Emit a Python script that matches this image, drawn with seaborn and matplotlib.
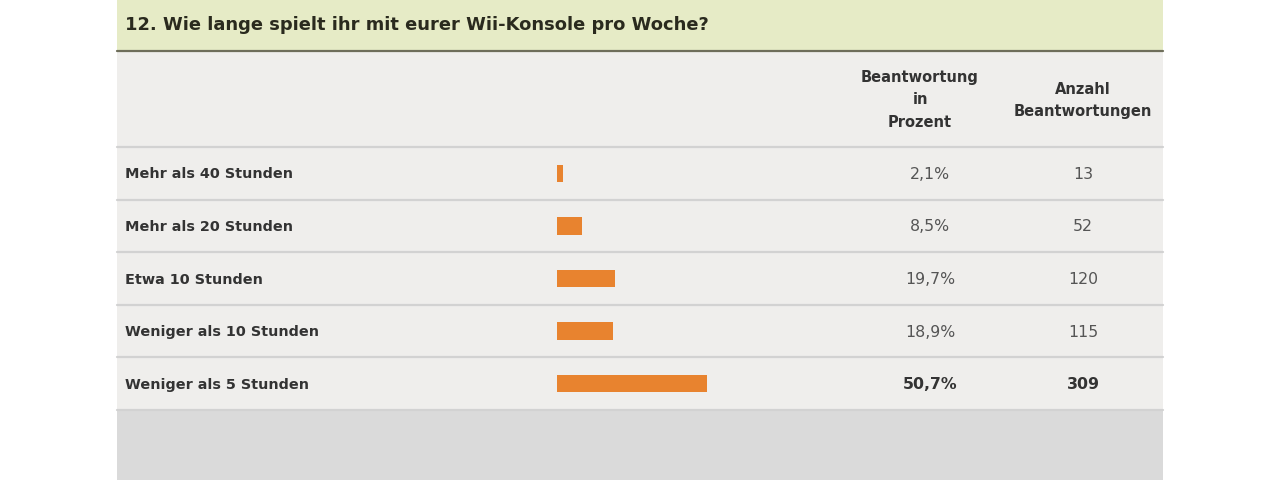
import matplotlib
matplotlib.use("Agg")
import matplotlib.pyplot as plt
import seaborn as sns
import pandas as pd
from matplotlib.patches import Rectangle
from matplotlib.lines import Line2D
import matplotlib.transforms as mtransforms

# ---- data ----
title = "12. Wie lange spielt ihr mit eurer Wii-Konsole pro Woche?"
categories = ["Mehr als 40 Stunden", "Mehr als 20 Stunden", "Etwa 10 Stunden",
              "Weniger als 10 Stunden", "Weniger als 5 Stunden"]
percent = [2.1, 8.5, 19.7, 18.9, 50.7]
counts = [13, 52, 120, 115, 309]
percent_labels = ["2,1%", "8,5%", "19,7%", "18,9%", "50,7%"]
header_pct = "Beantwortung\nin\nProzent"
header_cnt = "Anzahl\nBeantwortungen"

sns.set_theme(style="white")
plt.rcParams['font.family'] = ['DejaVu Sans']

W, H = 1280, 481
fig = plt.figure(figsize=(W / 100, H / 100), dpi=100)
fig.patch.set_facecolor("white")

def fx(px):
    return px / W

def fy(py):
    return 1 - py / H

L, R = 117, 1163
# title band
fig.patches.append(Rectangle((fx(L), fy(51)), fx(R - L), 51 / H,
                             transform=fig.transFigure, facecolor="#E6EBC6", edgecolor="none", zorder=0))
# header + rows background
fig.patches.append(Rectangle((fx(L), fy(411)), fx(R - L), (411 - 52) / H,
                             transform=fig.transFigure, facecolor="#EFEEEC", edgecolor="none", zorder=0))
# bottom gray area
fig.patches.append(Rectangle((fx(L), 0), fx(R - L), (H - 411) / H,
                             transform=fig.transFigure, facecolor="#DADADA", edgecolor="none", zorder=0))
# dark line below title
fig.lines.append(Line2D([fx(L), fx(R)], [fy(51.5), fy(51.5)], transform=fig.transFigure,
                        color="#6E6E5A", lw=1.6, zorder=1))

fig.text(fx(125), fy(25), title, fontsize=12.9, fontweight="bold", color="#2A2A1E",
         ha="left", va="center")
fig.text(fx(920), fy(100), header_pct, fontsize=10.5, fontweight="bold", color="#333333",
         ha="center", va="center", linespacing=1.65)
fig.text(fx(1083), fy(100.5), header_cnt, fontsize=10.5, fontweight="bold", color="#333333",
         ha="center", va="center", linespacing=1.65)

# bar axes: rows region 148..411 px, 0..100% over 295 px
top_px, bot_px = 148, 411
ax = fig.add_axes([fx(557), fy(bot_px), fx(295), (bot_px - top_px) / H])
ax.set_zorder(5)
df = pd.DataFrame({"cat": categories, "pct": percent})
sns.barplot(data=df, x="pct", y="cat", orient="h", color="#E8832F", width=0.33,
            saturation=1, linewidth=0, ax=ax, zorder=3)
ax.set_xlim(0, 100)
ax.set_ylim(len(categories) - 0.5, -0.5)
ax.set_facecolor("none")
ax.axis("off")

# row separators and texts using blended transform (figure x, data y)
trans = mtransforms.blended_transform_factory(fig.transFigure, ax.transData)
for i in range(len(categories) + 1):
    ln = Line2D([fx(L), fx(R)], [i - 0.5, i - 0.5], color="#D2D2D2", lw=1.6, zorder=1,
                transform=trans)
    fig.lines.append(ln)

imax = percent.index(max(percent))
for i, (c, p, n) in enumerate(zip(categories, percent_labels, counts)):
    w = "bold" if i == imax else "normal"
    col = "#333333" if w == "bold" else "#555555"
    fig.text(fx(125), i, c, transform=trans, fontsize=10.4, fontweight="bold",
             color="#333333", ha="left", va="center")
    fig.text(fx(930), i, p, transform=trans, fontsize=11.3, fontweight=w,
             color=col, ha="center", va="center")
    fig.text(fx(1083), i, str(n), transform=trans, fontsize=11.3, fontweight=w,
             color=col, ha="center", va="center")

fig.savefig("out.png", dpi=100)
